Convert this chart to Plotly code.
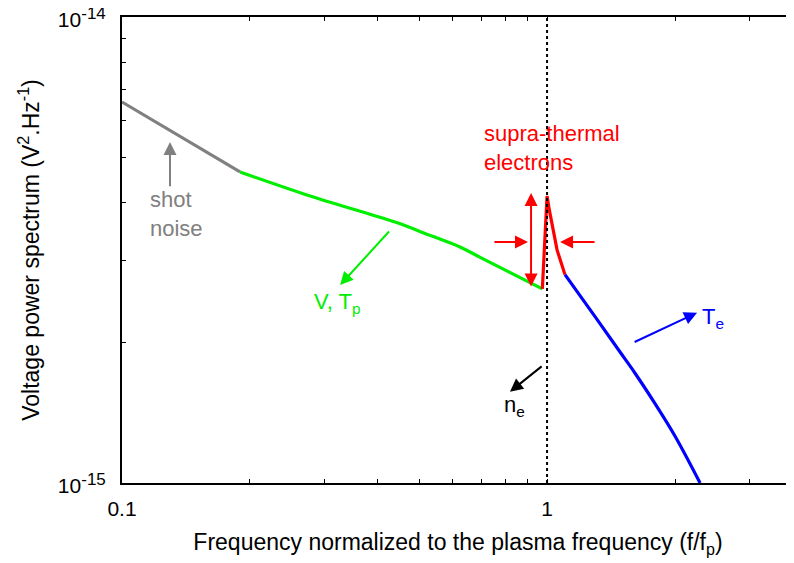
import plotly.graph_objects as go
import numpy as np

# ---- data ----
gray_f = [0.1, 0.1895]
gray_v = [6.57e-15, 4.65e-15]

green_f = [0.1895, 0.277, 0.439, 0.530, 0.624, 0.696, 0.975]
green_v = [4.65e-15, 4.13e-15, 3.63e-15, 3.40e-15, 3.21e-15, 3.05e-15, 2.61e-15]

red_f = [0.975, 1.0, 1.0125, 1.027, 1.056, 1.102]
red_v = [2.61e-15, 4.13e-15, 3.85e-15, 3.61e-15, 3.16e-15, 2.80e-15]

blue_f = [1.102, 1.297, 1.485, 1.611, 1.795, 2.001, 2.291]
blue_v = [2.80e-15, 2.275e-15, 1.91e-15, 1.72e-15, 1.48e-15, 1.26e-15, 1.0e-15]

x_tickvals = [0.1, 0.2, 0.3, 0.4, 0.5, 0.6, 0.7, 0.8, 0.9, 1, 2, 3]
x_ticktext = ["0.1", " ", " ", " ", " ", " ", " ", " ", " ", "1", " ", " "]
y_tickvals = [1e-15, 2e-15, 3e-15, 4e-15, 5e-15, 6e-15, 7e-15, 8e-15, 9e-15, 1e-14]
SUP = "<sup><span style='font-size:17px'>%s</span></sup>"
y_ticktext = ["10" + SUP % "-15", " ", " ", " ", " ", " ", " ", " ", " ", "10" + SUP % "-14"]

FONT = "Liberation Sans, Arial, Helvetica, sans-serif"
GRAY = "#808080"
GREEN = "#00ee00"
RED = "#ff0000"
BLUE = "#0000ff"

fig = go.Figure()
for f, v, c, shp in [(gray_f, gray_v, GRAY, "linear"), (green_f, green_v, GREEN, "spline"),
                     (red_f, red_v, RED, "linear"), (blue_f, blue_v, BLUE, "spline")]:
    fig.add_trace(go.Scatter(x=f, y=v, mode="lines",
                             line=dict(color=c, width=3.2, shape=shp, smoothing=1.0),
                             showlegend=False, hoverinfo="skip"))

# vertical dotted line at the plasma frequency
fig.add_shape(type="line", x0=1, x1=1, xref="x", y0=0, y1=1, yref="paper",
              line=dict(color="black", width=2, dash="dot"))

L = np.log10

def arrow(x_head, y_head, x_tail, y_tail, color, both=False):
    d = dict(x=L(x_head), y=L(y_head), ax=L(x_tail), ay=L(y_tail),
             xref="x", yref="y", axref="x", ayref="y", text="",
             showarrow=True, arrowhead=2, arrowsize=1.3, arrowwidth=2,
             arrowcolor=color, standoff=0, startstandoff=0)
    if both:
        d.update(arrowside="end+start", startarrowhead=2, startarrowsize=1.3)
    fig.add_annotation(**d)

def label(x, y, text, color):
    fig.add_annotation(x=L(x), y=L(y), xref="x", yref="y", text=text,
                       showarrow=False, xanchor="left", yanchor="middle",
                       align="left", font=dict(family=FONT, size=22, color=color))

# shot noise
arrow(0.1297, 5.39e-15, 0.1297, 4.30e-15, GRAY)
label(0.1151, 3.77e-15, "shot<br>noise", GRAY)
# V, Tp
arrow(0.326, 2.66e-15, 0.428, 3.49e-15, GREEN)
label(0.28, 2.43e-15, "V, T<sub>p</sub>", GREEN)
# supra-thermal electrons
label(0.703, 5.23e-15, "supra-thermal<br>electrons", RED)
arrow(0.917, 4.19e-15, 0.917, 2.62e-15, RED, both=True)
arrow(0.902, 3.29e-15, 0.746, 3.29e-15, RED)
arrow(1.073, 3.29e-15, 1.304, 3.29e-15, RED)
# ne
arrow(0.818, 1.57e-15, 0.979, 1.79e-15, "black")
label(0.783, 1.46e-15, "n<sub>e</sub>", "black")
# Te
arrow(2.254, 2.32e-15, 1.594, 2.00e-15, BLUE)
label(2.29, 2.26e-15, "T<sub>e</sub>", BLUE)

TICKFONT = dict(family=FONT, size=21, color="black")
axis_common = dict(showgrid=False, zeroline=False, showline=True,
                   linecolor="black", linewidth=2, ticks="inside",
                   ticklen=4, tickwidth=1, tickcolor="black",
                   ticklabeloverflow="allow")

fig.update_xaxes(type="log", range=[-1, 0.581], tickvals=x_tickvals,
                 ticktext=x_ticktext, mirror="ticks", ticklabelstandoff=6,
                 title=dict(text="Frequency normalized to the plasma frequency (f/f<sub>p</sub>)",
                            font=dict(family=FONT, size=23, color="black"),
                            standoff=15),
                 **axis_common)
fig.update_yaxes(type="log", range=[-15, -14], tickvals=y_tickvals,
                 ticktext=y_ticktext, mirror=False, ticklabelstandoff=10,
                 ticklabelshift=3,
                 title=dict(text="Voltage power spectrum (V<sup>2</sup>.Hz<sup>-1</sup>)",
                            font=dict(family=FONT, size=23, color="black"),
                            standoff=12),
                 **axis_common)
fig.update_xaxes(tickfont=TICKFONT)
fig.update_yaxes(tickfont=TICKFONT)

# the page body adds an 8px offset; margins compensate for it
fig.update_layout(width=794, height=563,
                  margin=dict(l=114, r=8, t=9, b=88, autoexpand=False),
                  paper_bgcolor="white", plot_bgcolor="white",
                  font=dict(family=FONT, size=21, color="black"))

fig.write_html("out.html")
